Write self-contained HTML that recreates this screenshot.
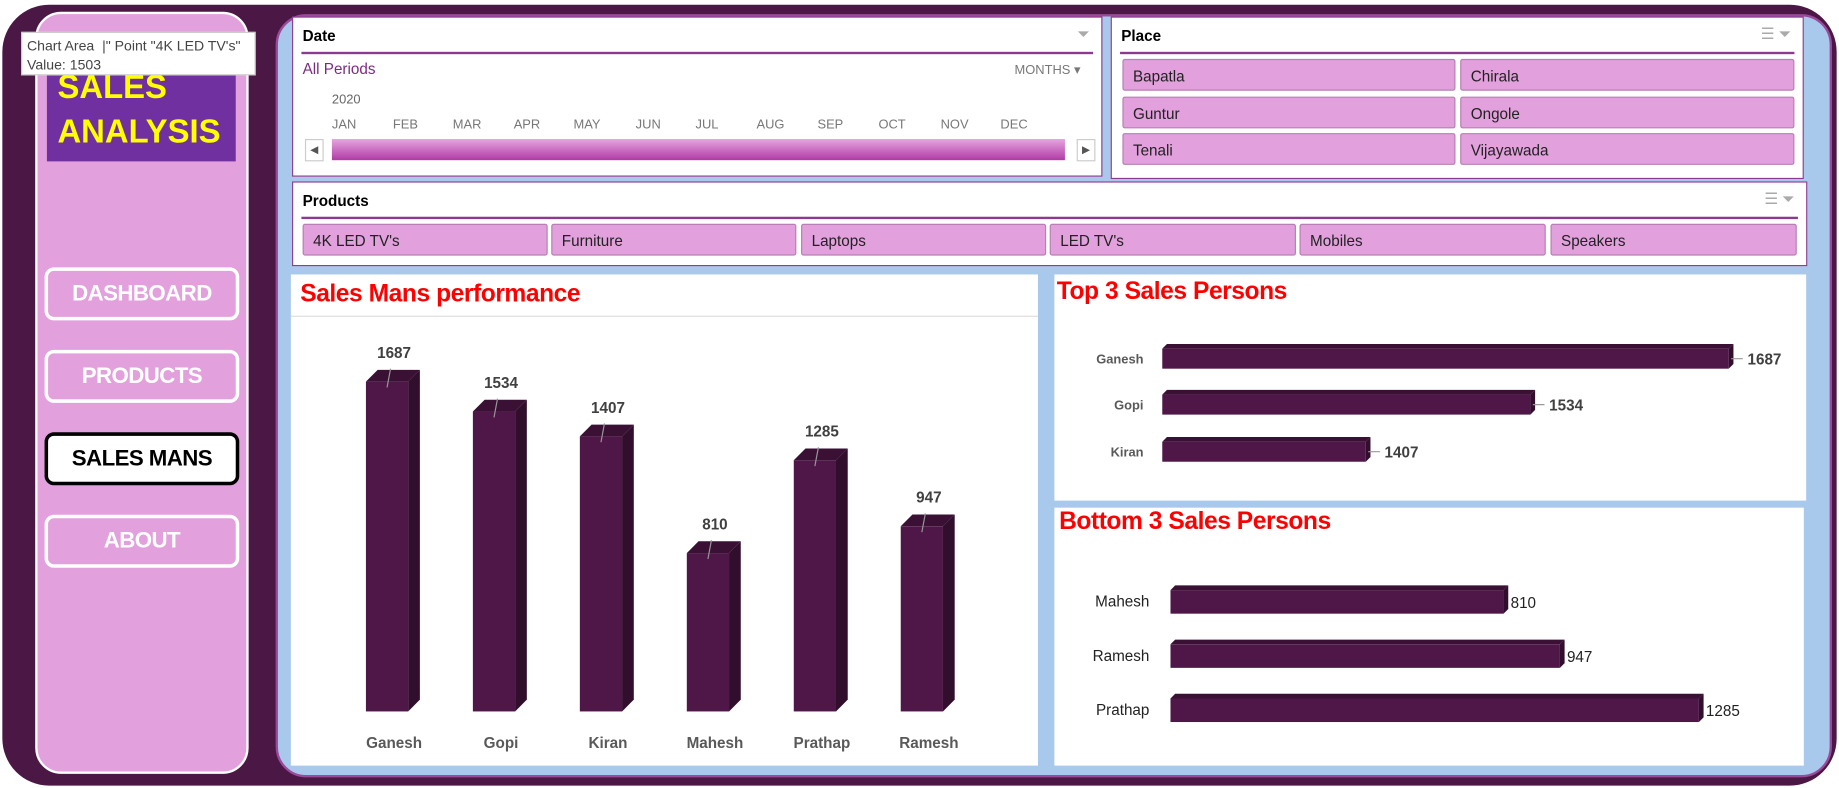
<!DOCTYPE html>
<html><head><meta charset="utf-8">
<style>
html,body{margin:0;padding:0;width:1839px;height:788px;overflow:hidden;background:#fff;font-family:"Liberation Sans",sans-serif;}
#stage{position:absolute;left:0;top:0;width:1568px;height:669px;transform:scale(1.17283,1.17788);transform-origin:0 0;}
.abs{position:absolute;box-sizing:border-box;}
.nav{position:absolute;left:38px;width:166px;height:45px;border:3px solid #fff;border-radius:8px;background:#e2a0dc;color:#fff;font-weight:bold;font-size:19px;letter-spacing:-0.5px;display:flex;align-items:center;justify-content:center;box-sizing:border-box;}
.slicer{position:absolute;background:#fff;border:1.5px solid #8b3a8f;box-sizing:border-box;}
.shead{position:absolute;left:8px;top:8px;font-size:13px;font-weight:bold;color:#000;}
.sline{position:absolute;left:7px;right:7px;height:1.5px;background:#8b3a8f;}
.btn{position:absolute;height:27px;background:#e2a0dc;border:1px solid #b77fb3;border-radius:2px;font-size:13px;color:#222;padding-left:8px;line-height:27px;box-sizing:border-box;}
.mon{position:absolute;top:85px;font-size:11px;color:#777;}
.chart{position:absolute;background:#fff;}
.ctitle{position:absolute;color:#ff0000;font-weight:bold;font-size:21px;letter-spacing:-0.4px;}
</style></head><body>
<div id="stage">
  <div class="abs" style="left:2px;top:4px;width:1564px;height:663px;background:#4b1845;border-radius:40px;"></div>
  <div class="abs" style="left:30px;top:10px;width:182px;height:647px;background:#e2a0dc;border:2px solid #fff;border-radius:22px;"></div>
  <div class="abs" style="left:40px;top:40px;width:161px;height:97px;background:#7030a0;color:#ffff00;font-weight:bold;font-size:28px;line-height:38px;padding:15px 0 0 9px;">SALES<br>ANALYSIS</div>
  <div class="abs" style="left:18px;top:27px;width:200px;height:37px;background:#fff;border:1px solid #ccc;font-size:12px;color:#444;padding:3px 4px;line-height:16px;">Chart Area &nbsp;|" Point "4K LED TV's"<br>Value: 1503</div>
  <div class="nav" style="top:227px">DASHBOARD</div>
  <div class="nav" style="top:297px">PRODUCTS</div>
  <div class="nav" style="top:367px;background:#fff;color:#000;border-color:#000;">SALES MANS</div>
  <div class="nav" style="top:437px">ABOUT</div>

  <div class="abs" style="left:235px;top:12px;width:1327px;height:648px;background:#a9c9ec;border:2px solid #9b4a9b;border-radius:26px;"></div>

  <div class="slicer" style="left:249px;top:14px;width:691px;height:136px;">
    <div class="shead">Date</div>
    <div style="position:absolute;right:10px;top:6px;color:#aaa;font-size:13px;">⏷</div>
    <div class="sline" style="top:29px"></div>
    <div style="position:absolute;left:8px;top:36px;color:#7b2a80;font-size:13px;">All Periods</div>
    <div style="position:absolute;left:615px;top:38px;color:#777;font-size:11px;">MONTHS ▾</div>
    <div style="position:absolute;left:33px;top:64px;color:#666;font-size:11px;">2020</div>
    <div class="mon" style="left:33px">JAN</div><div class="mon" style="left:85px">FEB</div><div class="mon" style="left:136px">MAR</div><div class="mon" style="left:188px">APR</div><div class="mon" style="left:239px">MAY</div><div class="mon" style="left:292px">JUN</div><div class="mon" style="left:343px">JUL</div><div class="mon" style="left:395px">AUG</div><div class="mon" style="left:447px">SEP</div><div class="mon" style="left:499px">OCT</div><div class="mon" style="left:552px">NOV</div><div class="mon" style="left:603px">DEC</div>
    <div style="position:absolute;left:33px;top:103px;width:625px;height:18px;background:linear-gradient(#e6a6e0,#b03aa4);"></div>
    <div style="position:absolute;left:10px;top:103px;width:14px;height:17px;border:1px solid #ccc;font-size:9px;color:#555;text-align:center;line-height:17px;">◀</div>
    <div style="position:absolute;left:668px;top:103px;width:14px;height:17px;border:1px solid #ccc;font-size:9px;color:#555;text-align:center;line-height:17px;">▶</div>
  </div>

  <div class="slicer" style="left:947px;top:14px;width:591px;height:138px;">
    <div class="shead">Place</div>
    <div style="position:absolute;right:10px;top:6px;color:#aaa;font-size:13px;">☰ ⏷</div>
    <div class="sline" style="top:29px"></div>
    <div class="btn" style="left:9px;top:35px;width:284px">Bapatla</div>
    <div class="btn" style="left:297px;top:35px;width:285px">Chirala</div>
    <div class="btn" style="left:9px;top:67px;width:284px">Guntur</div>
    <div class="btn" style="left:297px;top:67px;width:285px">Ongole</div>
    <div class="btn" style="left:9px;top:98px;width:284px">Tenali</div>
    <div class="btn" style="left:297px;top:98px;width:285px">Vijayawada</div>
  </div>

  <div class="slicer" style="left:249px;top:154px;width:1292px;height:72px;">
    <div class="shead">Products</div>
    <div style="position:absolute;right:10px;top:6px;color:#aaa;font-size:13px;">☰ ⏷</div>
    <div class="sline" style="top:29px"></div>
    <div class="btn" style="left:8px;top:35px;width:209px">4K LED TV's</div>
    <div class="btn" style="left:220px;top:35px;width:209px">Furniture</div>
    <div class="btn" style="left:433px;top:35px;width:209px">Laptops</div>
    <div class="btn" style="left:645px;top:35px;width:210px">LED TV's</div>
    <div class="btn" style="left:858px;top:35px;width:210px">Mobiles</div>
    <div class="btn" style="left:1072px;top:35px;width:210px">Speakers</div>
  </div>

  <div class="chart" style="left:248px;top:233px;width:637px;height:417px;">
    <div class="ctitle" style="left:8px;top:5px;">Sales Mans performance</div>
    <div style="position:absolute;left:0;right:0;top:35px;height:1px;background:#ddd;"></div>
    <svg id="colsvg" width="637" height="417" style="position:absolute;left:0;top:0"></svg>
  </div>
  <div class="chart" style="left:899px;top:233px;width:641px;height:192px;">
    <div class="ctitle" style="left:2px;top:3px;">Top 3 Sales Persons</div>
    <svg id="topsvg" width="641" height="192" style="position:absolute;left:0;top:0"></svg>
  </div>
  <div class="chart" style="left:899px;top:431px;width:639px;height:219px;">
    <div class="ctitle" style="left:4px;top:0px;">Bottom 3 Sales Persons</div>
    <svg id="botsvg" width="639" height="219" style="position:absolute;left:0;top:0"></svg>
  </div>
</div>
<script>
const colNames = ["Ganesh","Gopi","Kiran","Mahesh","Prathap","Ramesh"];
const colValues = [1687,1534,1407,810,1285,947];
const topNames = ["Ganesh","Gopi","Kiran"];
const topValues = [1687,1534,1407];
const botNames = ["Mahesh","Ramesh","Prathap"];
const botValues = [810,947,1285];
const NS="http://www.w3.org/2000/svg";
function mk(svg,tag,attrs,txt){const e=document.createElementNS(NS,tag);for(const k in attrs)e.setAttribute(k,attrs[k]);if(txt!==undefined)e.textContent=txt;svg.appendChild(e);return e;}
const FRONT="#4e1747",SIDE="#300e2c",TOP="#3a1035";
(function(){
  const svg=document.getElementById('colsvg');
  const base=371, scale=280/1687, x0=82, step=91.2, w=36, d=10;
  const y=v=>base-v*scale;
  colValues.forEach((v,i)=>{
    const x=x0-18+i*step, t=y(v);
    const g=mk(svg,'g',{});
    
    
    mk(g,'polygon',{points:`${x+w},${t} ${x+w+d},${t-d} ${x+w+d},${base-d} ${x+w},${base}`,fill:SIDE});
    mk(g,'polygon',{points:`${x},${t} ${x+d},${t-d} ${x+w+d},${t-d} ${x+w},${t}`,fill:TOP});
    mk(g,'rect',{x:x,y:t,width:w,height:base-t,fill:FRONT});
    mk(g,'line',{x1:x+18,y1:t+5,x2:x+21,y2:t-11,stroke:'#999','stroke-width':1});
    const lb=mk(svg,'text',{x:x+24,y:t-20,'text-anchor':'middle','font-size':13,'font-weight':'bold',fill:'#404040'},v);
    
    
    const cl=mk(svg,'text',{x:x+24,y:402,'text-anchor':'middle','font-size':13,'font-weight':'bold',fill:'#595959'},colNames[i]);
    
    
  });
})();
function hbar(id,names,vals,x0,minV,pxPer,ys,h,nameStyle,valStyle){
  const svg=document.getElementById(id);
  const xs=v=>x0+(v-minV)*pxPer;
  vals.forEach((v,i)=>{
    const y=ys[i], xe=xs(v), d=4;
    const g=mk(svg,'g',{});
    
    
    mk(g,'polygon',{points:`${x0},${y} ${x0+d},${y-d} ${xe+d},${y-d} ${xe},${y}`,fill:TOP});
    mk(g,'polygon',{points:`${xe},${y} ${xe+d},${y-d} ${xe+d},${y+h-d} ${xe},${y+h}`,fill:SIDE});
    mk(g,'rect',{x:x0,y:y,width:xe-x0,height:h,fill:FRONT});
    const nl=mk(svg,'text',Object.assign({x:nameStyle.x,y:y+h/2+4,'text-anchor':'end'},nameStyle.a),names[i]);
    
    
    if(valStyle.leader) mk(svg,'line',{x1:xe+2,y1:y+h/2,x2:xe+12,y2:y+h/2,stroke:'#999'});
    const vl=mk(svg,'text',Object.assign({x:xe+(valStyle.leader?16:6),y:y+h/2+5},valStyle.a),v);
    
    
  });
}
hbar('topsvg',topNames,topValues,92,1250,483/437,[63,102,142],17,
  {x:76,a:{'font-size':11,'font-weight':'bold',fill:'#595959'}},
  {leader:true,a:{'font-size':13,'font-weight':'bold',fill:'#404040'}});
hbar('botsvg',botNames,botValues,99,0,284/810,[70,116,162],20,
  {x:81,a:{'font-size':13,fill:'#222'}},
  {leader:false,a:{'font-size':13,fill:'#222'}});
</script>
</body></html>
